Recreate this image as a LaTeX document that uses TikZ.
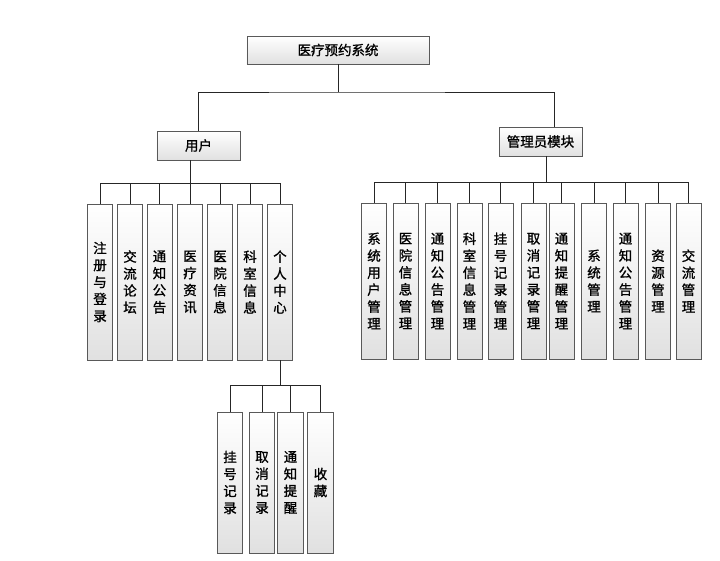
\documentclass[tikz,border=0pt]{standalone}
\usepackage{fontspec}
\newfontfamily\cjk[FakeBold=1.2]{Noto Sans CJK SC}
\usepackage{tikz}
\usetikzlibrary{positioning,calc}

\begin{document}
\begin{tikzpicture}[
  x=0.03cm, y=-0.03cm,
  box/.style={draw=black!65, line width=0.7pt, top color=white, bottom color=black!12, inner sep=0pt, align=center, font=\cjk\fontsize{11.5}{14.5}\selectfont},
  head_box/.style={box, minimum width=2.49cm, minimum height=0.87cm},
  leaf_box/.style={box, minimum width=0.75cm, minimum height=4.68cm},
  sub_box/.style={box, minimum width=0.77cm, minimum height=4.23cm},
  link/.style={draw=black!85, line width=0.7pt}
]
  \useasboundingbox (0,0) rectangle (720,561);

  \node[box, minimum width=5.46cm, minimum height=0.84cm] (sys) at (338,50) {医疗预约系统};
  \node[head_box] (user) at (198.5,145.5) {用户};
  \node[head_box] (admin) at (540.5,141.5) {管理员模块};

  % user side
  \node[leaf_box] (u1) at (100,282) {注\\册\\与\\登\\录};
  \node[leaf_box] (u2) at (130,282) {交\\流\\论\\坛};
  \node[leaf_box] (u3) at (159.5,282) {通\\知\\公\\告};
  \node[leaf_box] (u4) at (190,282) {医\\疗\\资\\讯};
  \node[leaf_box] (u5) at (220,282) {医\\院\\信\\息};
  \node[leaf_box] (u6) at (250,282) {科\\室\\信\\息};
  \node[leaf_box] (u7) at (280,282) {个\\人\\中\\心};

  \node[sub_box] (p1) at (230,482.5) {挂\\号\\记\\录};
  \node[sub_box] (p2) at (262,482.5) {取\\消\\记\\录};
  \node[sub_box] (p3) at (290.5,482.5) {通\\知\\提\\醒};
  \node[sub_box] (p4) at (320.5,482.5) {收\\藏};

  % admin side
  \node[leaf_box] (a1) at (374,281) {系\\统\\用\\户\\管\\理};
  \node[leaf_box] (a2) at (405.5,281) {医\\院\\信\\息\\管\\理};
  \node[leaf_box] (a3) at (437.5,281) {通\\知\\公\\告\\管\\理};
  \node[leaf_box] (a4) at (469.5,281) {科\\室\\信\\息\\管\\理};
  \node[leaf_box] (a5) at (500.5,281) {挂\\号\\记\\录\\管\\理};
  \node[leaf_box] (a6) at (533.5,281) {取\\消\\记\\录\\管\\理};
  \node[leaf_box] (a7) at (561.5,281) {通\\知\\提\\醒\\管\\理};
  \node[leaf_box] (a8) at (594,281) {系\\统\\管\\理};
  \node[leaf_box] (a9) at (625.5,281) {通\\知\\公\\告\\管\\理};
  \node[leaf_box] (a10) at (658,281) {资\\源\\管\\理};
  \node[leaf_box] (a11) at (688.5,281) {交\\流\\管\\理};

  \coordinate (top_bus) at (338,92);
  \coordinate (user_bus) at (0,183);
  \coordinate (admin_bus) at (0,182);
  \coordinate (sub_bus) at (0,385);

  % top level
  \draw[link] (sys.south) -- (top_bus);
  \draw[link] (user.north) |- (top_bus) -| ([xshift=0.42cm]admin.north);

  % user tree
  \draw[link] (u4.north |- user.south) -- (u4.north);
  \draw[link] (u1.north) |- (u7.north |- user_bus) -- (u7.north);
  \draw[link] (u2.north) -- (u2.north |- user_bus);
  \draw[link] (u3.north) -- (u3.north |- user_bus);
  \draw[link] (u5.north) -- (u5.north |- user_bus);
  \draw[link] (u6.north) -- (u6.north |- user_bus);

  % personal center tree
  \draw[link] (u7.south) -- (u7.south |- sub_bus);
  \draw[link] (p1.north) |- (p4.north |- sub_bus) -- (p4.north);
  \draw[link] (p2.north) -- (p2.north |- sub_bus);
  \draw[link] (p3.north) -- (p3.north |- sub_bus);

  % admin tree
  \draw[link] ([xshift=0.18cm]admin.south) -- ([xshift=0.18cm]admin.south |- admin_bus);
  \draw[link] (a1.north) |- (a11.north |- admin_bus) -- (a11.north);
  \draw[link] (a2.north) -- (a2.north |- admin_bus);
  \draw[link] (a3.north) -- (a3.north |- admin_bus);
  \draw[link] (a4.north) -- (a4.north |- admin_bus);
  \draw[link] (a5.north) -- (a5.north |- admin_bus);
  \draw[link] (a6.north) -- (a6.north |- admin_bus);
  \draw[link] (a7.north) -- (a7.north |- admin_bus);
  \draw[link] (a8.north) -- (a8.north |- admin_bus);
  \draw[link] (a9.north) -- (a9.north |- admin_bus);
  \draw[link] (a10.north) -- (a10.north |- admin_bus);
\end{tikzpicture}
\end{document}
